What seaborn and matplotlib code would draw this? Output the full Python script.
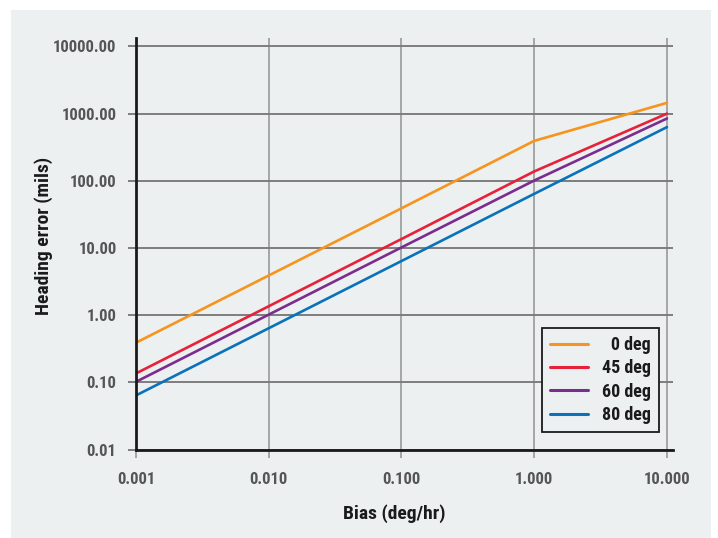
import numpy as np
import pandas as pd
import matplotlib
matplotlib.use("Agg")
import matplotlib.pyplot as plt
from matplotlib import font_manager
from matplotlib.patches import Rectangle
from matplotlib.ticker import FixedLocator, NullLocator, FixedFormatter
import seaborn as sns

BIAS = [0.001, 0.01, 0.1, 1.0, 10.0]
ERR_0 = [0.39, 3.9, 39.0, 393.0, 1445.0]
ERR_45 = [0.136, 1.36, 13.6, 138.0, 1000.0]
ERR_60 = [0.102, 1.02, 10.2, 101.0, 846.0]
ERR_80 = [0.064, 0.64, 6.4, 64.0, 630.0]
SERIE = ["0 deg", "45 deg", "60 deg", "80 deg"]
COLORI = {"0 deg": "#f7941d", "45 deg": "#e8213a", "60 deg": "#7b2d8e", "80 deg": "#0a72ba"}
YTICKS = [0.01, 0.1, 1, 10, 100, 1000, 10000]
XTICKS = [0.001, 0.01, 0.1, 1, 10]

BG = "#ecf0f1"

sns.set_theme(style="white")
nomi = {f.name for f in font_manager.fontManager.ttflist}
candidati = ["Roboto Condensed", "Liberation Sans Narrow", "DejaVu Sans Condensed",
             "Open Sans Condensed", "Roboto"]
scelta = next((c for c in candidati if c in nomi), "DejaVu Sans")
plt.rcParams["font.family"] = [scelta, "DejaVu Sans"]

righe = []
for nome, valori in zip(SERIE, [ERR_0, ERR_45, ERR_60, ERR_80]):
    for b, v in zip(BIAS, valori):
        righe.append({"bias": b, "errore": v, "serie": nome})
df = pd.DataFrame(righe)

fig = plt.figure(figsize=(7.18, 5.38), dpi=100)
fig.patch.set_facecolor("white")
fig.patches.append(Rectangle((11 / 718, 0), 700 / 718, 528 / 538, transform=fig.transFigure,
                             facecolor=BG, edgecolor="none", zorder=-10))
ax = fig.add_axes([136 / 718, 1 - 449.6 / 538, 537 / 718, 411.6 / 538])
ax.set_facecolor(BG)

sns.lineplot(data=df, x="bias", y="errore", hue="serie", hue_order=SERIE, palette=COLORI,
             estimator=None, linewidth=1.9, ax=ax, zorder=3)

ax.set_xscale("log")
ax.set_yscale("log")
ax.set_xlim(0.001, 11.1)
ax.set_ylim(0.01, 13340)

ax.xaxis.set_major_locator(FixedLocator(XTICKS))
ax.xaxis.set_major_formatter(FixedFormatter([f"{v:.3f}" for v in XTICKS]))
ax.xaxis.set_minor_locator(NullLocator())
ax.yaxis.set_major_locator(FixedLocator(YTICKS))
ax.yaxis.set_major_formatter(FixedFormatter([f"{v:.2f}" for v in YTICKS]))
ax.yaxis.set_minor_locator(NullLocator())

ax.grid(True, axis="x", color="#a5a5a5", linewidth=1.4)
ax.grid(True, axis="y", color="#7d7d7d", linewidth=1.4)
ax.set_axisbelow(True)

for s in ["top", "right"]:
    ax.spines[s].set_visible(False)
for s in ["left", "bottom"]:
    ax.spines[s].set_color("#1a1a1a")
    ax.spines[s].set_linewidth(2.0)
    ax.spines[s].set_zorder(4)

ax.tick_params(axis="x", bottom=True, length=6, width=1.4, color="#a5a5a5", pad=10,
               labelsize=12, labelcolor="#555555")
ax.tick_params(axis="y", left=True, length=6, width=1.4, color="#7d7d7d", pad=8,
               labelsize=12, labelcolor="#555555")
for t in ax.get_xticklabels() + ax.get_yticklabels():
    t.set_fontweight("bold")

ax.set_xlabel("Bias (deg/hr)", fontsize=14, fontweight="bold", color="#1a1a1a")
ax.set_ylabel("Heading error (mils)", fontsize=14, fontweight="bold", color="#1a1a1a")
ax.xaxis.set_label_coords(0.48, -0.132)
ax.yaxis.set_label_coords(-0.155, 0.52)

handles, labels = ax.get_legend_handles_labels()
# allineamento a destra delle etichette con spazi cifra
etichette = [("\u2007" if len(l) < 6 else "") + l for l in labels]
leg = ax.legend(handles, etichette, loc="lower right", bbox_to_anchor=(0.974, 0.042),
                borderaxespad=0, frameon=True, fancybox=False, facecolor=BG,
                edgecolor="#1a1a1a", framealpha=1, handlelength=2.1, handletextpad=0.8,
                labelspacing=0.3, prop={"size": 13, "weight": "bold"}, borderpad=0.45)
leg.get_frame().set_linewidth(1.3)
for l in leg.get_lines():
    l.set_linewidth(2.2)
for t in leg.get_texts():
    t.set_color("#1a1a1a")

fig.savefig("out.png", dpi=100, facecolor="white")
